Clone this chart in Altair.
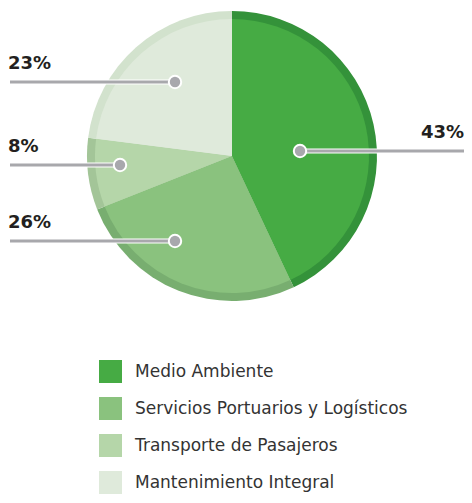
import altair as alt
import pandas as pd

# ---- data ----
categories = ["Medio Ambiente", "Servicios Portuarios y Logísticos",
              "Transporte de Pasajeros", "Mantenimiento Integral"]
shares = [43, 26, 8, 23]
labels = ["43%", "26%", "8%", "23%"]

# ---- styles ----
fill_colors = ["#46AB44", "#8AC27E", "#B5D6A9", "#DFEADB"]
ring_colors = ["#34923A", "#78AE70", "#A3C598", "#D2E2CD"]

# ---- layout (pixel space of the plot area) ----
W, H = 456, 487
CX, CY = 224, 148
R_OUT, R_IN = 145, 137
dot_x = [292, 167, 112, 167]
line_y = [143, 233, 157, 74]
line_end_x = [456, 2, 2, 2]
label_x = [456, 0, 0, 0]
label_align = ["right", "left", "left", "left"]

pie_df = pd.DataFrame({"cat": categories, "share": shares,
                       "order": list(range(len(categories)))})
ann_df = pd.DataFrame({"label": labels, "dx": dot_x, "ly": line_y,
                       "ex": line_end_x, "tx": label_x,
                       "ty": [v - 13 for v in line_y], "align": label_align})

xs = alt.Scale(domain=[0, W], nice=False, zero=False)
ys = alt.Scale(domain=[0, H], nice=False, zero=False, reverse=True)

ring = alt.Chart(pie_df).mark_arc(outerRadius=R_OUT, innerRadius=0, strokeWidth=0).encode(
    theta=alt.Theta("share:Q", stack=True),
    order=alt.Order("order:Q"),
    color=alt.Color("cat:N", scale=alt.Scale(domain=categories, range=ring_colors), legend=None),
    x=alt.value(CX), y=alt.value(CY),
)

inner = alt.Chart(pie_df).mark_arc(outerRadius=R_IN, innerRadius=0, strokeWidth=0).encode(
    theta=alt.Theta("share:Q", stack=True),
    order=alt.Order("order:Q"),
    color=alt.Color("cat:N", scale=alt.Scale(domain=categories, range=fill_colors),
                    legend=alt.Legend(title=None, orient="none", legendX=91, legendY=352,
                                      symbolType="square", symbolSize=529,
                                      symbolStrokeWidth=0, symbolOpacity=1,
                                      labelFont="DejaVu Sans", labelFontSize=17,
                                      labelColor="#333333", labelOffset=13,
                                      rowPadding=14, padding=0, labelLimit=400)),
    x=alt.value(CX), y=alt.value(CY),
)

base = alt.Chart(ann_df)
white_rule = base.mark_rule(color="white", strokeWidth=5).encode(
    x=alt.X("dx:Q", scale=xs, axis=None), x2="ex:Q",
    y=alt.Y("ly:Q", scale=ys, axis=None))
gray_rule = base.mark_rule(color="#A8A8AC", strokeWidth=3).encode(
    x=alt.X("dx:Q", scale=xs, axis=None), x2="ex:Q",
    y=alt.Y("ly:Q", scale=ys, axis=None))
dots = base.mark_circle(size=154, color="#A8A8AD", opacity=1,
                        stroke="white", strokeWidth=2).encode(
    x=alt.X("dx:Q", scale=xs, axis=None),
    y=alt.Y("ly:Q", scale=ys, axis=None))
text_r = alt.Chart(ann_df[ann_df["align"] == "right"]).mark_text(
    align="right", baseline="alphabetic", font="DejaVu Sans", fontWeight="bold",
    fontSize=18, color="#231F20").encode(
    x=alt.X("tx:Q", scale=xs, axis=None), y=alt.Y("ty:Q", scale=ys, axis=None), text="label:N")
text_l = alt.Chart(ann_df[ann_df["align"] == "left"]).mark_text(
    align="left", baseline="alphabetic", font="DejaVu Sans", fontWeight="bold",
    fontSize=18, color="#231F20").encode(
    x=alt.X("tx:Q", scale=xs, axis=None), y=alt.Y("ty:Q", scale=ys, axis=None), text="label:N")

chart = alt.layer(ring, inner, white_rule, gray_rule, dots, text_r, text_l).resolve_scale(
    color="independent"
).properties(
    width=W, height=H, padding=0, autosize=alt.AutoSizeParams(type="none")
).configure_view(stroke=None)

chart.save("out.html", embed_options={"renderer": "svg", "actions": False})
